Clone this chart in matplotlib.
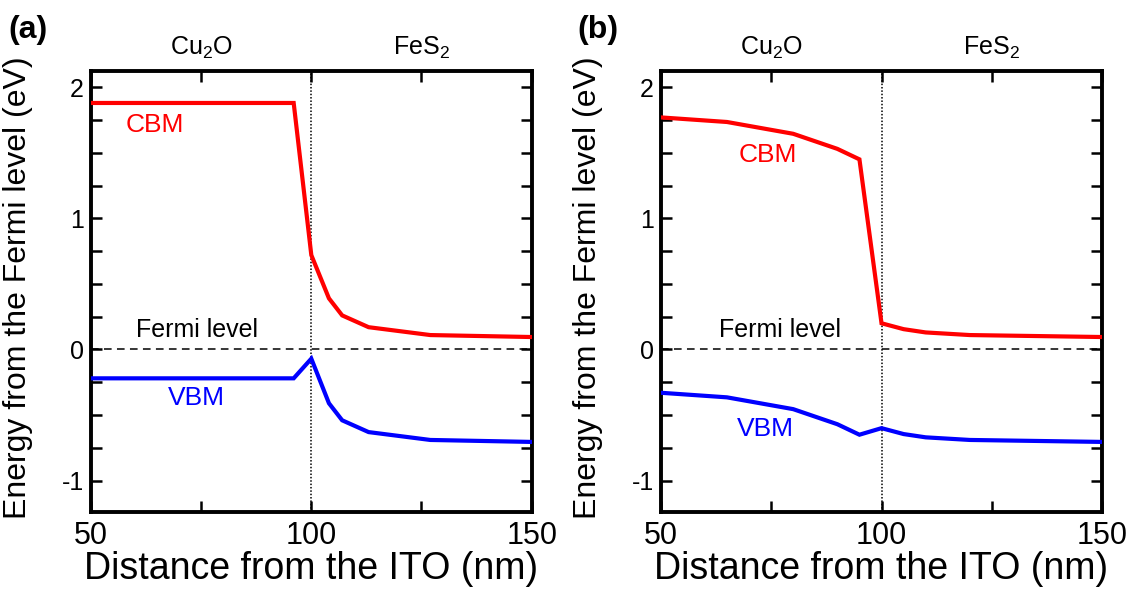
import numpy as np
import matplotlib.pyplot as plt

plt.rcParams['font.family'] = ['Liberation Sans', 'DejaVu Sans']
plt.rcParams['mathtext.fontset'] = 'custom'
plt.rcParams['mathtext.rm'] = 'Liberation Sans'

# %% Band edges vs. distance (nm from ITO, energy in eV from Fermi level)

# (a)
x_a = [50, 96, 100, 104, 107, 113, 127, 150]
cbm_a = [1.88, 1.88, 0.72, 0.39, 0.26, 0.17, 0.11, 0.095]
vbm_a = [-0.22, -0.22, -0.07, -0.41, -0.54, -0.63, -0.69, -0.705]

# (b)
x_b = [50, 65, 80, 90, 95, 100, 105, 110, 120, 150]
cbm_b = [1.77, 1.735, 1.645, 1.53, 1.45, 0.20, 0.155, 0.13, 0.11, 0.095]
vbm_b = [-0.33, -0.365, -0.455, -0.57, -0.65, -0.60, -0.645, -0.67, -0.69, -0.705]

panels = [
    dict(tag='(a)', x=x_a, cbm=cbm_a, vbm=vbm_a,
         cbm_txt=(64.5, 1.71), vbm_txt=(74, -0.37), fermi_txt=74),
    dict(tag='(b)', x=x_b, cbm=cbm_b, vbm=vbm_b,
         cbm_txt=(74.3, 1.48), vbm_txt=(73.6, -0.61), fermi_txt=77),
]

# %% Plot

fig = plt.figure(figsize=(11.37, 5.91), dpi=100)
ax_pos = [[0.0800, 0.1331, 0.3876, 0.7468],
          [0.5811, 0.1331, 0.3884, 0.7468]]

for pos, p in zip(ax_pos, panels):
    ax = fig.add_axes(pos)

    ax.plot(p['x'], p['cbm'], color='#ff0000', lw=3.0, solid_joinstyle='miter', zorder=3)
    ax.plot(p['x'], p['vbm'], color='#0000ff', lw=3.0, solid_joinstyle='miter', zorder=3)
    ax.axhline(0, color='black', ls=(0, (5, 3.5)), lw=1.1, zorder=1)
    ax.axvline(100, color='black', ls=(0, (1, 1.2)), lw=1.1, zorder=1)

    ax.text(p['cbm_txt'][0], p['cbm_txt'][1], 'CBM', color='#ff0000', fontsize=19,
            ha='center', va='center')
    ax.text(p['vbm_txt'][0], p['vbm_txt'][1], 'VBM', color='#0000ff', fontsize=19,
            ha='center', va='center')
    ax.text(p['fermi_txt'], 0.055, 'Fermi level', fontsize=18, ha='center', va='bottom')

    ax.set_xlim(50, 150)
    ax.set_ylim(-1.242, 2.124)
    ax.set_xticks([50, 75, 100, 125, 150])
    ax.set_xticklabels(['50', '', '100', '', '150'])
    ax.set_yticks(np.arange(-1.0, 2.01, 0.25))
    ax.set_yticklabels(['-1' if v == -1 else ('%d' % v if v == int(v) else '')
                        for v in np.arange(-1.0, 2.01, 0.25)])
    ax.tick_params(axis='both', direction='in', length=8, width=1.8,
                   top=True, right=True)
    ax.tick_params(axis='x', labelsize=22, pad=6)
    ax.tick_params(axis='y', labelsize=18, pad=5)
    for s in ax.spines.values():
        s.set_linewidth(2.8)

    ax.set_xlabel('Distance from the ITO (nm)', fontsize=27, labelpad=0)

    # layer names above the frame
    ax.text(75, 2.2, 'Cu$_2$O', fontsize=18, ha='center', va='bottom')
    ax.text(125, 2.2, 'FeS$_2$', fontsize=18, ha='center', va='bottom')

    bb = ax.get_position()
    fig.text(bb.x0 - 0.064, 0.5127, 'Energy from the Fermi level (eV)',
             rotation=90, fontsize=23, ha='center', va='center')
    fig.text(bb.x0 - 0.073, 0.975, p['tag'], fontsize=23, fontweight='bold',
             ha='left', va='top')

plt.savefig('out.png', dpi=100)
